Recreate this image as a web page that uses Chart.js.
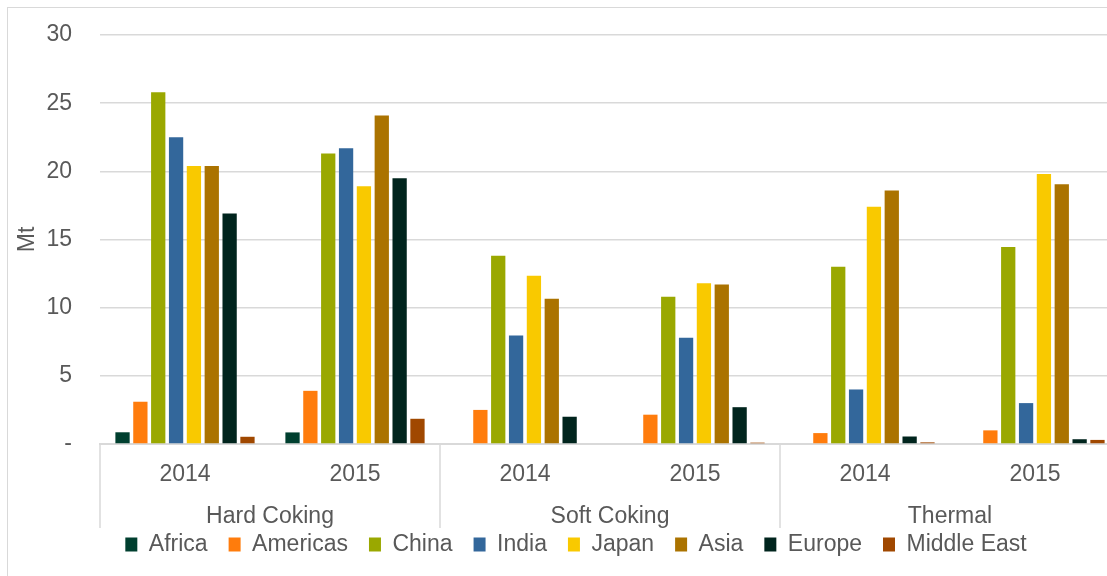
<!DOCTYPE html>
<html>
<head>
<meta charset="utf-8">
<script src="https://cdn.jsdelivr.net/npm/chart.js@4.4.1/dist/chart.umd.min.js"></script>
<style>
  html, body { margin:0; padding:0; background:#fff; overflow:hidden; }
  #frame { position:absolute; left:7px; top:7px; width:1200px; height:620px; border:1px solid #d9d9d9; }
  #wrap  { position:absolute; left:0; top:0; width:1152px; height:576px; }
</style>
</head>
<body>
<div id="frame"></div>
<div id="wrap"><canvas id="c"></canvas></div>
<script>
/* ── Data (Mt) ───────────────────────────────────────────── */
const YEARS  = ["2014","2015","2014","2015","2014","2015"];
const GROUPS = ["Hard Coking","Soft Coking","Thermal"];

const AFRICA      = [0.86, 0.85, 0,     0,     0,     0];
const AMERICAS    = [3.1,  3.9,  2.5,   2.15,  0.8,   1.0];
const CHINA       = [25.8, 21.3, 13.8,  10.8,  13.0,  14.45];
const INDIA       = [22.5, 21.7, 7.95,  7.8,   4.0,   3.0];
const JAPAN       = [20.4, 18.9, 12.35, 11.8,  17.4,  19.8];
const ASIA        = [20.4, 24.1, 10.65, 11.7,  18.6,  19.05];
const EUROPE      = [16.9, 19.5, 2.0,   2.7,   0.55,  0.35];
const MIDDLE_EAST = [0.53, 1.85, 0,     0.1,   0.12,  0.3];

const TXT  = "#595959";
const GRID = "#d9d9d9";
const FONT = '"Liberation Sans", Arial, sans-serif';
const FS   = 23;

Chart.defaults.font.family = FONT;
Chart.defaults.color = TXT;

/* ── Second label row: group names + separators ──────────── */
const groupAxis = {
  id: "groupAxis",
  afterDraw(chart) {
    const x = chart.scales.x, ctx = chart.ctx;
    const per  = YEARS.length / GROUPS.length;
    const step = x.width / YEARS.length;
    ctx.save();
    ctx.strokeStyle = GRID;
    ctx.lineWidth = 1.5;
    for (let g = 0; g <= GROUPS.length; g++) {
      const px = Math.round(x.left + g * per * step);
      ctx.beginPath();
      ctx.moveTo(px, x.top);
      ctx.lineTo(px, x.top + 84);
      ctx.stroke();
    }
    ctx.font = FS + "px " + FONT;
    ctx.fillStyle = TXT;
    ctx.textAlign = "center";
    ctx.textBaseline = "middle";
    GROUPS.forEach((name, g) => {
      const cx = (x.getPixelForValue(g * per) + x.getPixelForValue(g * per + per - 1)) / 2;
      ctx.fillText(name, cx, x.top + 73);
    });
    ctx.restore();
  }
};

const ds = (label, data, color) => ({
  label, data, backgroundColor: color, borderWidth: 0,
  categoryPercentage: 0.84, barPercentage: 0.8,
});

new Chart(document.getElementById("c"), {
  type: "bar",
  data: {
    labels: YEARS,
    datasets: [
      ds("Africa",      AFRICA,      "#003f2f"),
      ds("Americas",    AMERICAS,    "#ff7c0c"),
      ds("China",       CHINA,       "#9aa800"),
      ds("India",       INDIA,       "#33679b"),
      ds("Japan",       JAPAN,       "#f9c900"),
      ds("Asia",        ASIA,        "#ab7300"),
      ds("Europe",      EUROPE,      "#00241d"),
      ds("Middle East", MIDDLE_EAST, "#a04800"),
    ],
  },
  options: {
    responsive: true,
    maintainAspectRatio: false,
    animation: false,
    layout: { padding: { left: 32, top: 35, right: 32, bottom: 10 } },
    plugins: {
      tooltip: { enabled: false },
      legend: {
        position: "bottom",
        labels: { color: TXT, font: { size: FS }, boxWidth: 12, boxHeight: 14, padding: 21 },
      },
    },
    scales: {
      x: {
        grid: { display: false },
        border: { display: true, color: GRID, width: 2 },
        ticks: { color: TXT, font: { size: FS }, padding: 9, maxRotation: 0 },
        afterFit: s => { s.height = 68; },
      },
      y: {
        min: 0, max: 30,
        ticks: { stepSize: 5, color: TXT, font: { size: FS }, padding: 28,
                 callback: v => v === 0 ? "-" : v },
        grid: { color: GRID, lineWidth: 1.5, drawTicks: false },
        border: { display: false },
        title: { display: true, text: "Mt", color: TXT, font: { size: FS }, padding: { top: -18 } },
        afterFit: s => { s.width = 68; s.paddingTop = 0; s.paddingBottom = 0; },
      },
    },
  },
  plugins: [groupAxis],
});
</script>
</body>
</html>
